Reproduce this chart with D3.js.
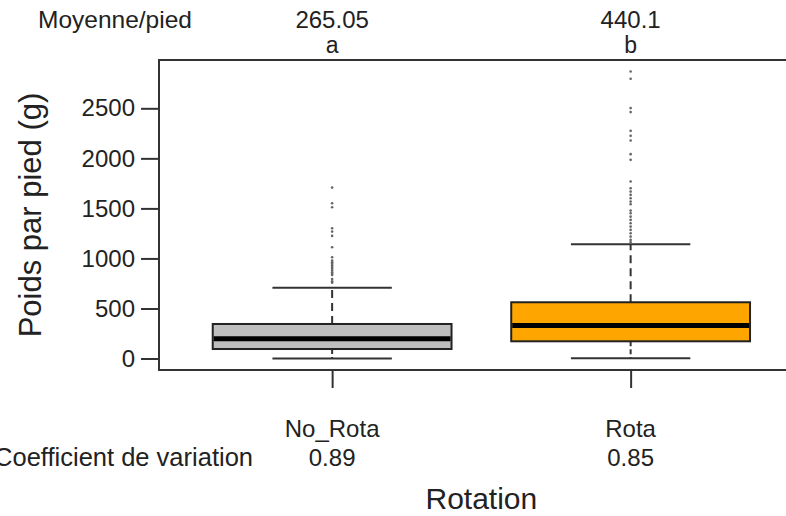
<!DOCTYPE html>
<html>
<head>
    <meta charset="utf-8">
    <title>Boxplot Rotation</title>
    <script src="https://d3js.org/d3.v7.min.js"></script>
    <style>
        body { margin: 0; background: #fff; }
        text { font-family: "Liberation Sans", Arial, sans-serif; fill: #222; }
    </style>
</head>
<body>
<div id="chart"></div>
<script type="text/javascript">

    // groupes et statistiques
    const groups = ["No_Rota", "Rota"];
    const means = ["265.05", "440.1"];
    const letters = ["a", "b"];
    const cvs = ["0.89", "0.85"];
    const lowWhisker = [0, 2];
    const q1 = [95, 172];
    const medians = [197, 330];
    const q3 = [345, 562];
    const highWhisker = [706, 1142];
    const outliersNoRota = [1708, 1552, 1512, 1302, 1268, 1225, 1112, 1012, 978, 962, 948, 932,
        915, 898, 880, 862, 846, 835, 795, 772, 758];
    const outliersRota = [2868, 2795, 2502, 2462, 2275, 2225, 2178, 2042, 1985, 1768, 1702, 1668,
        1635, 1602, 1568, 1542, 1478, 1452, 1418, 1385, 1352, 1318, 1285, 1252, 1218, 1185, 1160];
    const yTicks = [0, 500, 1000, 1500, 2000, 2500];

    const outliers = [outliersNoRota, outliersRota];

    let W = 786, H = 516;
    let plot = {left: 159, top: 60, bottom: 370};

    let svg = d3.select("#chart")
        .append("svg")
        .attr("width", W)
        .attr("height", H);

    // limites à la R : étendue + 4 %
    let lo = d3.min(lowWhisker);
    let hi = d3.max(outliers.flat());
    let pad = (hi - lo) * 0.04;

    let yScale = d3.scaleLinear()
        .domain([lo - pad, hi + pad])
        .range([plot.bottom, plot.top]);

    let xScale = d3.scaleLinear()
        .domain([0.42, 2.58])
        .range([plot.left, plot.left + 2.16 * 298.5]);

    // cadre (le côté droit sort de l'image)
    svg.append("rect")
        .attr("x", plot.left)
        .attr("y", plot.top)
        .attr("width", xScale(2.58) - plot.left)
        .attr("height", plot.bottom - plot.top)
        .attr("fill", "none")
        .attr("stroke", "#333")
        .attr("stroke-width", 2);

    // axe y
    let yAxis = d3.axisLeft(yScale)
        .tickValues(yTicks)
        .tickSize(18)
        .tickPadding(6)
        .tickFormat(d3.format("d"));

    let gy = svg.append("g")
        .attr("transform", "translate(" + plot.left + ",0)")
        .call(yAxis);
    gy.select(".domain").remove();
    gy.selectAll(".tick line").attr("stroke", "#333").attr("stroke-width", 2);
    gy.selectAll(".tick text")
        .attr("font-size", "24px")
        .attr("font-family", "Liberation Sans, Arial, sans-serif")
        .attr("fill", "#222");

    // axe x
    let xAxis = d3.axisBottom(xScale)
        .tickValues([1, 2])
        .tickSize(18)
        .tickFormat("");

    let gx = svg.append("g")
        .attr("transform", "translate(0," + plot.bottom + ")")
        .call(xAxis);
    gx.select(".domain").remove();
    gx.selectAll(".tick line").attr("stroke", "#333").attr("stroke-width", 2);

    let fills = ["#bebebe", "#ffa500"];
    let boxW = 0.4, capW = 0.2;

    groups.forEach(function(g, i) {
        let c = i + 1;

        // moustaches pointillées
        svg.append("line")
            .attr("x1", xScale(c)).attr("x2", xScale(c))
            .attr("y1", yScale(q3[i])).attr("y2", yScale(highWhisker[i]))
            .attr("stroke", "#333").attr("stroke-width", 2)
            .attr("stroke-dasharray", "8,5");
        svg.append("line")
            .attr("x1", xScale(c)).attr("x2", xScale(c))
            .attr("y1", yScale(q1[i])).attr("y2", yScale(lowWhisker[i]))
            .attr("stroke", "#333").attr("stroke-width", 2)
            .attr("stroke-dasharray", "5,3");

        // extrémités
        [highWhisker[i], lowWhisker[i]].forEach(function(v) {
            svg.append("line")
                .attr("x1", xScale(c - capW)).attr("x2", xScale(c + capW))
                .attr("y1", yScale(v)).attr("y2", yScale(v))
                .attr("stroke", "#333").attr("stroke-width", 2);
        });

        // boîte
        svg.append("rect")
            .attr("x", xScale(c - boxW))
            .attr("y", yScale(q3[i]))
            .attr("width", xScale(c + boxW) - xScale(c - boxW))
            .attr("height", yScale(q1[i]) - yScale(q3[i]))
            .attr("fill", fills[i])
            .attr("stroke", "#222")
            .attr("stroke-width", 2);

        // médiane
        svg.append("line")
            .attr("x1", xScale(c - boxW) + 1).attr("x2", xScale(c + boxW) - 1)
            .attr("y1", yScale(medians[i])).attr("y2", yScale(medians[i]))
            .attr("stroke", "#000").attr("stroke-width", 5);

        // points extrêmes
        svg.selectAll(".out" + i)
            .data(outliers[i])
            .enter()
            .append("circle")
            .attr("class", "out" + i)
            .attr("cx", xScale(c))
            .attr("cy", function(d) { return yScale(d); })
            .attr("r", 1.3)
            .attr("fill", "#666");

        // textes au-dessus
        svg.append("text")
            .attr("x", xScale(c)).attr("y", 28)
            .attr("text-anchor", "middle")
            .attr("font-size", "24px")
            .text(means[i]);
        svg.append("text")
            .attr("x", xScale(c)).attr("y", 53)
            .attr("text-anchor", "middle")
            .attr("font-size", "23px")
            .text(letters[i]);

        // textes en dessous
        svg.append("text")
            .attr("x", xScale(c)).attr("y", 437)
            .attr("text-anchor", "middle")
            .attr("font-size", "24px")
            .text(g);
        svg.append("text")
            .attr("x", xScale(c)).attr("y", 466)
            .attr("text-anchor", "middle")
            .attr("font-size", "24px")
            .text(cvs[i]);
    });

    svg.append("text")
        .attr("x", 38).attr("y", 28)
        .attr("font-size", "24.5px")
        .text("Moyenne/pied");

    svg.append("text")
        .attr("x", 253).attr("y", 466)
        .attr("text-anchor", "end")
        .attr("font-size", "25.5px")
        .text("Coefficient de variation");

    svg.append("text")
        .attr("x", (plot.left + xScale(2.58)) / 2).attr("y", 509)
        .attr("text-anchor", "middle")
        .attr("font-size", "30px")
        .text("Rotation");

    svg.append("text")
        .attr("transform", "translate(41," + ((plot.top + plot.bottom) / 2) + ") rotate(-90)")
        .attr("text-anchor", "middle")
        .attr("font-size", "31px")
        .text("Poids par pied (g)");

</script>
</body>
</html>
